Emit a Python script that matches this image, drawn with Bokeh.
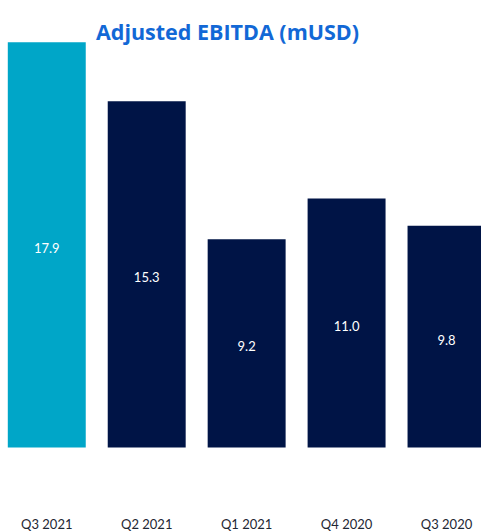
from bokeh.plotting import figure
from bokeh.models import ColumnDataSource, Range1d, Label
from bokeh.core.properties import value
from bokeh.embed import file_html
from bokeh.resources import INLINE

categories = ["Q3 2021", "Q2 2021", "Q1 2021", "Q4 2020", "Q3 2020"]
ebitda = [17.9, 15.3, 9.2, 11.0, 9.8]
bar_colors = ["#00A6C8", "#001446", "#001446", "#001446", "#001446"]
title_text = "Adjusted EBITDA (mUSD)"

idx = list(range(len(categories)))
src = ColumnDataSource(dict(
    x=idx,
    top=ebitda,
    mid=[v / 2 for v in ebitda],
    lab=[f"{v:.1f}" for v in ebitda],
    cat=categories,
    color=bar_colors,
    cat_y=[-3.40] * len(categories),
))

W, H = 481, 531
p = figure(width=W, height=H, output_backend="svg", toolbar_location=None,
           x_range=Range1d(-0.463, 4.35), y_range=Range1d(-3.71, 19.75),
           min_border_left=0, min_border_right=0, min_border_top=0, min_border_bottom=0)
p.axis.visible = False
p.grid.visible = False
p.outline_line_color = None
p.background_fill_color = "white"
p.border_fill_color = "white"

p.vbar(x="x", top="top", bottom=0, width=0.78, color="color", line_color=None, source=src)

p.text(x="x", y="mid", text="lab", source=src, text_color="white",
       text_font=value("Lato"), text_font_size="13px", y_offset=3,
       text_align="center", text_baseline="middle")

p.text(x="x", y="cat_y", text="cat", source=src, text_color="#1E2733",
       text_font=value("Lato"), text_font_size="13px",
       text_align="center", text_baseline="middle")

p.add_layout(Label(x=227, y=H - 31, x_units="screen", y_units="screen",
                   text=title_text, text_color="#1268D6", text_font="Open Sans",
                   text_font_style="bold", text_font_size="21.5px",
                   text_align="center", text_baseline="alphabetic"))

open("out.html", "w").write(file_html(p, INLINE))
